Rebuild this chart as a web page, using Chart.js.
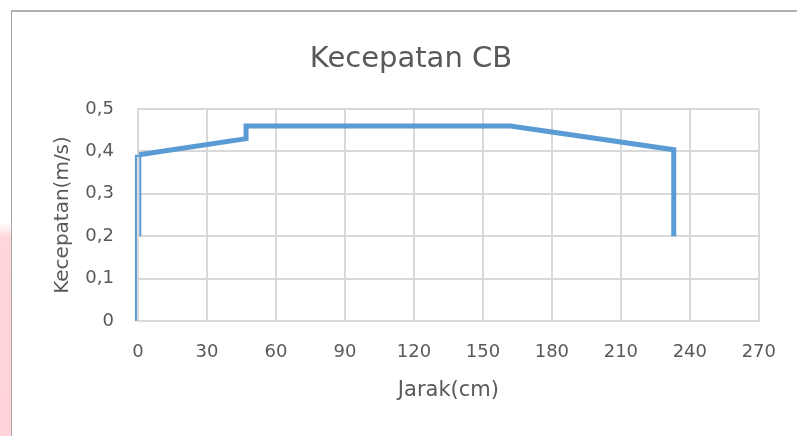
<!DOCTYPE html>
<html>
<head>
<meta charset="utf-8">
<script src="https://cdn.jsdelivr.net/npm/chart.js@4.4.1/dist/chart.umd.min.js"></script>
<style>
  html, body { margin: 0; padding: 0; background: #ffffff; }
  #wrap { position: relative; width: 797px; height: 436px; overflow: hidden; background: #ffffff; }
  #pink { position: absolute; left: 0; top: 222px; width: 11px; height: 214px;
          background: linear-gradient(to bottom, rgba(255,214,218,0) 0px, #ffd6da 16px, #ffd3d7 100%); }
  #frame { position: absolute; left: 11px; top: 10px; width: 800px; height: 440px;
           border-left: 1px solid #a6a6a6; border-top: 2px solid #b0b0b0; box-sizing: border-box; }
  canvas { position: absolute; left: 0; top: 0; }
</style>
</head>
<body>
<div id="wrap">
  <div id="pink"></div>
  <div id="frame"></div>
  <canvas id="c" width="797" height="436"></canvas>
</div>
<script>
// ---- data ----
const chartTitle = "Kecepatan CB";
const xAxisTitle = "Jarak(cm)";
const yAxisTitle = "Kecepatan(m/s)";

// thin starting segment (near x = 0)
const startX = [1, 1, -0.9, -0.9];
const startY = [0.2, 0.39, 0.39, 0];

// main thick line
const mainX = [0.5, 47, 47, 162, 233, 233];
const mainY = [0.392, 0.43, 0.46, 0.46, 0.404, 0.2];

const xTicks = [0, 30, 60, 90, 120, 150, 180, 210, 240, 270];
const yTicks = [0, 0.1, 0.2, 0.3, 0.4, 0.5];

const toPoints = (xs, ys) => xs.map((x, i) => ({ x: x, y: ys[i] }));

const textColor = '#595959';
const gridColor = '#d9d9d9';
const lineColor = '#5b9bd5';
const fontFamily = '"DejaVu Sans", sans-serif';

const titlePlugin = {
  id: 'centeredTitle',
  afterDraw(chart) {
    const ctx = chart.ctx;
    ctx.save();
    ctx.fillStyle = textColor;
    ctx.font = '29px ' + fontFamily;
    ctx.textAlign = 'center';
    ctx.textBaseline = 'alphabetic';
    ctx.fillText(chartTitle, 411, 67);
    ctx.restore();
  }
};

new Chart(document.getElementById('c'), {
  type: 'scatter',
  data: {
    datasets: [
      {
        data: toPoints(startX, startY),
        showLine: true,
        borderColor: lineColor,
        borderWidth: 2,
        pointRadius: 0,
        clip: false
      },
      {
        data: toPoints(mainX, mainY),
        showLine: true,
        borderColor: lineColor,
        borderWidth: 5,
        pointRadius: 0,
        clip: false
      }
    ]
  },
  plugins: [titlePlugin],
  options: {
    responsive: false,
    animation: false,
    devicePixelRatio: 1,
    layout: { padding: { left: 0, right: 34, top: 109, bottom: 0 } },
    plugins: {
      legend: { display: false },
      tooltip: { enabled: false },
      title: { display: false }
    },
    scales: {
      x: {
        type: 'linear',
        min: 0,
        max: 270,
        afterBuildTicks: (s) => { s.ticks = xTicks.map(v => ({ value: v })); },
        afterFit: (s) => { s.height = 115; },
        ticks: {
          color: textColor,
          font: { family: fontFamily, size: 18 },
          padding: 21,
          maxRotation: 0
        },
        grid: { color: gridColor, lineWidth: 2, drawTicks: false },
        border: { color: gridColor, width: 2 },
        title: {
          display: true,
          text: xAxisTitle,
          color: textColor,
          font: { family: fontFamily, size: 21, lineHeight: 1.2 },
          padding: { top: 0, bottom: 32.4 }
        }
      },
      y: {
        type: 'linear',
        min: 0,
        max: 0.5,
        afterBuildTicks: (s) => { s.ticks = yTicks.map(v => ({ value: v })); },
        afterFit: (s) => { s.width = 138; },
        ticks: {
          color: textColor,
          font: { family: fontFamily, size: 18 },
          padding: 24,
          callback: (v) => (Math.round(v * 10) / 10).toString().replace('.', ',')
        },
        grid: { color: gridColor, lineWidth: 2, drawTicks: false },
        border: { color: gridColor, width: 2 },
        title: {
          display: true,
          text: yAxisTitle,
          color: textColor,
          font: { family: fontFamily, size: 20, lineHeight: 1.2 },
          padding: { top: 51, bottom: 0 }
        }
      }
    }
  }
});
</script>
</body>
</html>
